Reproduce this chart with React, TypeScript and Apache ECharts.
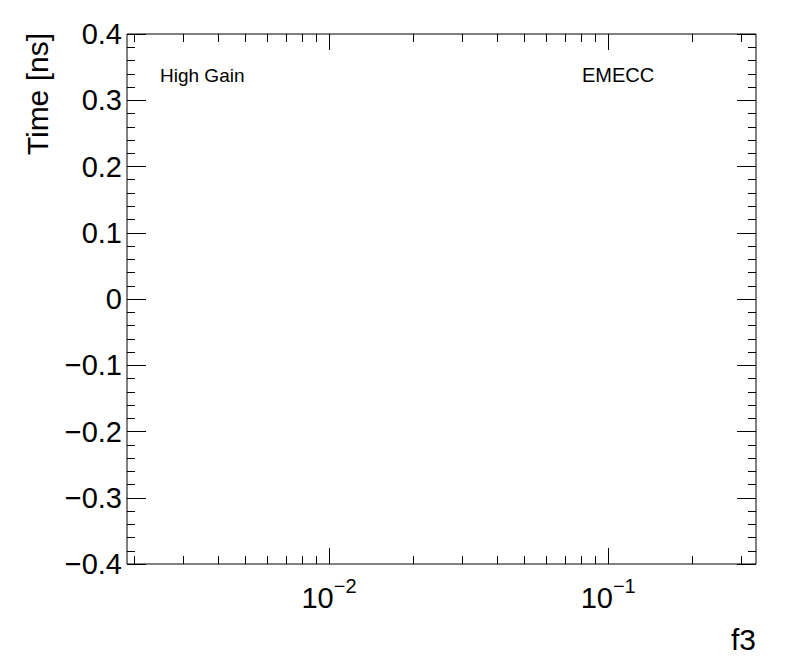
import React, { useEffect, useRef } from "react";
import * as echarts from "echarts";

// Axis ranges
const xMin = 0.00189;
const xMax = 0.3384;
const yMin = -0.4;
const yMax = 0.4;
const yInterval = 0.1;

// Log-axis ticks (value, isMajor, exponent for label)
const xMajorTicks = [0.01, 0.1];
const xMajorExponents = [-2, -1];
const xMinorTicks = [
  0.002, 0.003, 0.004, 0.005, 0.006, 0.007, 0.008, 0.009,
  0.02, 0.03, 0.04, 0.05, 0.06, 0.07, 0.08, 0.09,
  0.2, 0.3,
];

// Texts
const yTitle = "Time [ns]";
const xTitle = "f3";
const leftLabel = "High Gain";
const rightLabel = "EMECC";

const FONT = "'Liberation Sans', Arial, Helvetica, sans-serif";

export default function App() {
  const ref = useRef<HTMLDivElement>(null);

  useEffect(() => {
    if (!ref.current) return;
    const chart = echarts.init(ref.current, null, { renderer: "svg" });

    const tickData: any[] = [
      ...xMajorTicks.map((v, i) => [v, 1, xMajorExponents[i]]),
      ...xMinorTicks.map((v) => [v, 0, 0]),
    ];

    const fmtY = (v: number) => {
      const r = Math.round(v * 10) / 10;
      if (r === 0) return "0";
      return r.toFixed(1).replace("-", "\u2212");
    };

    const yAxisCommon = {
      type: "value",
      min: yMin,
      max: yMax,
      interval: yInterval,
      axisLine: { show: false },
      splitLine: { show: false },
      axisTick: { show: true, inside: true, length: 19, lineStyle: { color: "#000", width: 1 } },
      minorTick: { show: true, splitNumber: 5, length: 8, lineStyle: { color: "#000", width: 1 } },
    };

    chart.setOption({
      animation: false,
      backgroundColor: "#fff",
      grid: {
        left: 127,
        right: 40,
        top: 34,
        bottom: 108,
        show: true,
        borderColor: "#000",
        borderWidth: 1,
        backgroundColor: "transparent",
      },
      xAxis: {
        type: "log",
        logBase: 10,
        min: xMin,
        max: xMax,
        axisLine: { show: false },
        axisTick: { show: false },
        axisLabel: { show: false },
        splitLine: { show: false },
      },
      yAxis: [
        {
          ...yAxisCommon,
          position: "left",
          axisLabel: {
            show: true,
            formatter: fmtY,
            fontFamily: FONT,
            fontSize: 29,
            color: "#000",
            margin: 5,
          },
        },
        {
          ...yAxisCommon,
          position: "right",
          axisLabel: { show: false },
        },
      ],
      graphic: [
        {
          type: "text",
          x: 37,
          y: 33,
          rotation: Math.PI / 2,
          style: {
            text: yTitle,
            font: `30px ${FONT}`,
            fill: "#000",
            align: "right",
            verticalAlign: "middle",
          },
        },
        {
          type: "text",
          x: 756,
          y: 639,
          style: {
            text: xTitle,
            font: `30px ${FONT}`,
            fill: "#000",
            align: "right",
            verticalAlign: "middle",
          },
        },
        {
          type: "text",
          x: 160,
          y: 75,
          style: {
            text: leftLabel,
            font: `19px ${FONT}`,
            fill: "#000",
            align: "left",
            verticalAlign: "middle",
          },
        },
        {
          type: "text",
          x: 582,
          y: 75,
          style: {
            text: rightLabel,
            font: `20px ${FONT}`,
            fill: "#000",
            align: "left",
            verticalAlign: "middle",
          },
        },
      ],
      series: [
        {
          type: "custom",
          clip: false,
          silent: true,
          data: tickData,
          encode: { x: 0, y: 1 },
          renderItem: (params: any, api: any) => {
            const v = api.value(0);
            const major = api.value(1) === 1;
            const exp = api.value(2);
            const b = api.coord([v, yMin]);
            const t = api.coord([v, yMax]);
            const x = Math.round(b[0]) + 0.5;
            const len = major ? 16 : 8;
            const children: any[] = [
              {
                type: "line",
                shape: { x1: x, y1: b[1], x2: x, y2: b[1] - len },
                style: { stroke: "#000", lineWidth: 1 },
              },
              {
                type: "line",
                shape: { x1: x, y1: t[1], x2: x, y2: t[1] + len },
                style: { stroke: "#000", lineWidth: 1 },
              },
            ];
            if (major) {
              const expText = String(exp).replace("-", "\u2212");
              children.push({
                type: "text",
                x: b[0],
                y: b[1] + 30,
                style: {
                  text: `{b|10}{s|${expText}}`,
                  align: "center",
                  verticalAlign: "middle",
                  rich: {
                    b: { fontFamily: FONT, fontSize: 29, fill: "#000", lineHeight: 36, verticalAlign: "bottom" },
                    s: { fontFamily: FONT, fontSize: 20, fill: "#000", lineHeight: 36, verticalAlign: "top" },
                  },
                },
              });
            }
            return { type: "group", children };
          },
        },
      ],
    });

    return () => chart.dispose();
  }, []);

  return <div ref={ref} style={{ width: 796, height: 672, position: "absolute", left: 0, top: 0 }} />;
}
